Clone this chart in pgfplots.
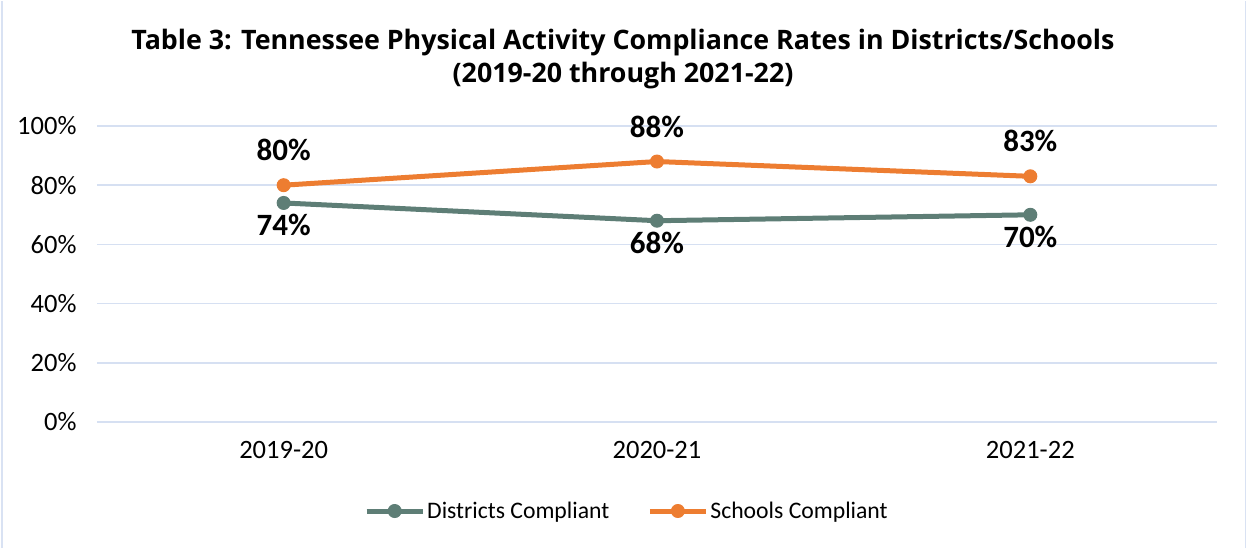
\documentclass[border=0pt]{standalone}
\usepackage{pgfplots}
\pgfplotsset{compat=1.18}
\usepackage{fontspec}
\setmainfont{Carlito}
\newfontfamily\titlefont{Open Sans}
\definecolor{gridblue}{HTML}{D6E0F2}
\definecolor{borderblue}{HTML}{D9E2F3}
\definecolor{distgreen}{HTML}{5E7E76}
\definecolor{schorange}{HTML}{ED7D31}

\begin{document}
\begin{tikzpicture}[x=1pt,y=1pt]
\path (0,0) rectangle (1247,547);
\draw[borderblue, line width=2pt] (2,0) -- (2,547);
\draw[borderblue, line width=1.5pt] (1245.5,0) -- (1245.5,547);
\node[font=\titlefont\fontsize{26.8}{33}\selectfont\bfseries, align=center] at (623,488.5)
  {Table 3: Tennessee Physical Activity Compliance Rates in Districts/Schools\\(2019-20 through 2021-22)};
\begin{axis}[
  at={(97pt,126pt)}, anchor=south west,
  scale only axis, width=1120pt, height=296pt,
  xmin=-0.5, xmax=2.5, ymin=0, ymax=100,
  xtick={0,1,2}, xticklabels={2019-20,2020-21,2021-22},
  ytick={0,20,40,60,80,100},
  yticklabel={\pgfmathprintnumber{\tick}\%},
  axis line style={draw=none},
  major tick length=0pt,
  ymajorgrids, grid style={gridblue, line width=1.5pt},
  tick label style={font=\fontsize{26.5}{30}\selectfont},
  /pgf/number format/assume math mode=true,
  yticklabel style={xshift=-17pt},
  xticklabel style={yshift=-16pt},
  clip=false,
  nodes near coords={\pgfmathprintnumber{\pgfplotspointmeta}\%},
  every node near coord/.append style={font=\fontsize{31}{34}\selectfont\bfseries, anchor=center},
  legend columns=2,
  legend style={at={(0.4732,-0.3007)}, anchor=center, draw=none, fill=none,
    font=\fontsize{23.7}{27}\selectfont,
    nodes={inner xsep=2pt},
    /tikz/every even column/.append style={column sep=36pt}},
  legend image code/.code={\draw[#1, mark repeat=2, mark phase=2] plot coordinates {(0pt,0pt) (28pt,0pt) (56pt,0pt)};},
]
\addplot[distgreen, line width=5pt, mark=*, mark size=6.5pt, mark options={line width=1pt},
  every node near coord/.append style={yshift=-22pt, text=black}]
  coordinates {(0,74) (1,68) (2,70)};
\addplot[schorange, line width=5pt, mark=*, mark size=6.5pt, mark options={line width=1pt},
  every node near coord/.append style={yshift=35pt, text=black}]
  coordinates {(0,80) (1,88) (2,83)};
\legend{Districts Compliant, Schools Compliant}
\end{axis}
\end{tikzpicture}
\end{document}
